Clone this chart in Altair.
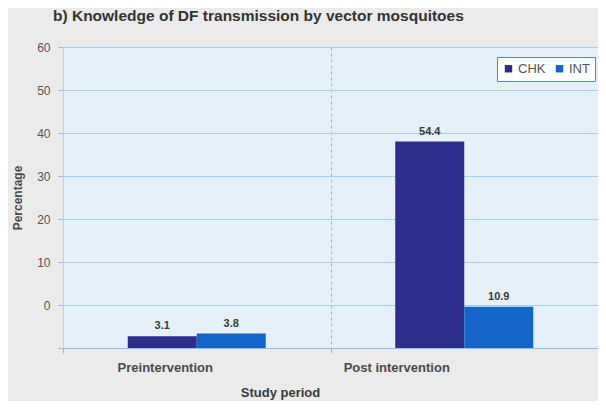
import altair as alt
import pandas as pd

periods = ["Preintervention", "Post intervention"]
groups = ["CHK", "INT"]
chk_values = [3.1, 54.4]
int_values = [3.8, 10.9]
tick_labels = ["", "0", "10", "20", "30", "40", "50", "60"]
grid_step = 79.3 / 7

rows = []
for i, p in enumerate(periods):
    rows.append({"period": p, "group": "CHK", "value": chk_values[i]})
    rows.append({"period": p, "group": "INT", "value": int_values[i]})
df = pd.DataFrame(rows)

tick_vals = [i * grid_step for i in range(len(tick_labels))]
label_expr = "[" + ",".join(f"'{t}'" for t in tick_labels) + f"][round(datum.value/{grid_step})]"

font = "Liberation Sans"

x = alt.X("period:N", sort=periods, title="Study period",
          scale=alt.Scale(paddingInner=0, paddingOuter=0),
          axis=alt.Axis(labelAngle=0, labelFont=font, labelFontSize=13, labelFontWeight="bold",
                        labelColor="#4a4a4a", labelPadding=8,
                        labelOffset={"condition": {"test": f"datum.value === '{periods[0]}'", "value": -32},
                                     "value": -68},
                        titleFont=font, titleFontSize=13, titleFontWeight="bold", titleColor="#3a3a3a",
                        titlePadding=12, titleX=217, tickBand="extent", ticks=True, tickSize=5,
                        tickColor="#8cbde6", domainColor="#8cbde6", grid=True,
                        gridColor="#8cbde6", gridDash=[3, 3], gridWidth=1))
xo = alt.XOffset("group:N", sort=groups, scale=alt.Scale(paddingOuter=0.938, paddingInner=0))
y = alt.Y("value:Q", title="Percentage",
          scale=alt.Scale(domain=[0, 79.3], nice=False, zero=True),
          axis=alt.Axis(values=tick_vals, labelExpr=label_expr, labelFont=font, labelFontSize=12,
                        labelColor="#555555", labelPadding=8, tickSize=5, tickColor="#8cbde6",
                        domainColor="#b5d6ef", gridColor="#a9cfee", gridWidth=1,
                        titleFont=font, titleFontSize=12, titleFontWeight="bold", titleColor="#4a4a4a",
                        titlePadding=12))

bars = alt.Chart(df).mark_bar(size=69).encode(
    x=x, xOffset=xo, y=y,
    color=alt.Color("group:N", sort=groups,
                    scale=alt.Scale(domain=groups, range=["#2d2e8c", "#1565c8"]),
                    legend=alt.Legend(title=None, orient="none", legendX=434, legendY=10,
                                      direction="horizontal", symbolType="square", symbolSize=55,
                                      symbolStrokeWidth=0, labelFont=font, labelFontSize=13,
                                      labelColor="#555555", strokeColor="#3a8fe0", fillColor="#ffffff",
                                      padding=5, columnPadding=7, labelOffset=3))
)

labels = alt.Chart(df).mark_text(dy=-10, font=font, fontSize=11, fontWeight="bold",
                                 color="#3a3a3a").encode(
    x=alt.X("period:N", sort=periods), xOffset=alt.XOffset("group:N", sort=groups), y="value:Q",
    text=alt.Text("value:Q", format=".1f")
)

chart = (bars + labels).properties(
    width=535, height=301,
    autosize=alt.AutoSizeParams(type="none"),
    padding={"left": 55, "top": 39, "right": 0, "bottom": 53},
    background="#ebebeb",
    title=alt.TitleParams("b) Knowledge of DF transmission by vector mosquitoes", anchor="start",
                          frame="group", font=font, fontSize=15.5, fontWeight="bold", color="#333333",
                          dx=-10, offset=17),
).configure_view(fill="#e5f0f9", stroke=None)

chart.save("out.html", embed_options={"renderer": "svg", "actions": False})
